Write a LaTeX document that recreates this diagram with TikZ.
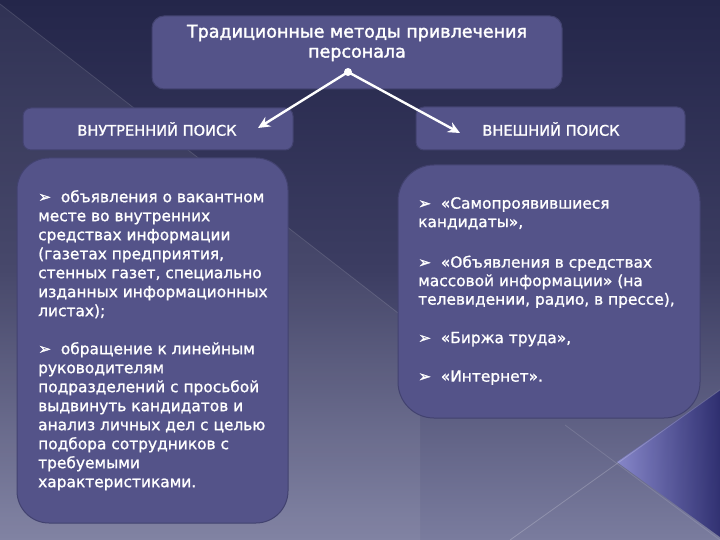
\documentclass[tikz,border=0pt]{standalone}
\usepackage{fontspec}
\setmainfont{DejaVu Sans}
\newfontfamily\heavy[FakeBold=1.2]{DejaVu Sans}
\newfontfamily\heavier[FakeBold=2]{DejaVu Sans}
\usetikzlibrary{arrows.meta,shadows}
\definecolor{bgtop}{HTML}{24264A}
\definecolor{bgmid}{HTML}{3C3D62}
\definecolor{bgbot}{HTML}{7A7C9E}
\definecolor{boxfill}{HTML}{545389}
\definecolor{boxedge}{HTML}{42426F}
\definecolor{blueA}{HTML}{8A8AD0}
\definecolor{blueB}{HTML}{2A2A6E}
\tikzset{
  panel/.style={fill=boxfill, draw=boxedge, line width=1pt},
  txt/.style={text=white, inner sep=0pt, align=left, anchor=north west},
  conn/.style={draw=white, line width=2.4pt, -{Stealth[length=12pt,width=11pt]}},
}
\begin{document}
\begin{tikzpicture}[x=1pt,y=-1pt]
\useasboundingbox (0,0) rectangle (720,540);
% background
\shade[top color=bgtop, bottom color=bgbot, middle color=bgmid] (0,0) rectangle (720,540);
\fill[white, opacity=0.06] (0,4) -- (420,330) -- (420,540) -- (0,540) -- cycle;
\draw[white, opacity=0.12, line width=0.8pt] (0,4) -- (420,330);
\shade[left color=blueA, right color=blueB, opacity=0.9] (617,462) -- (720,390) -- (720,537) -- cycle;
\draw[white, opacity=0.2, line width=0.8pt] (510,540) -- (720,390);
\draw[white, opacity=0.12, line width=0.8pt] (565,425) -- (720,540);
% boxes
\draw[panel, rounded corners=12pt] (152,16) rectangle (562,89);
\node[text=white, font=\heavier\fontsize{17.5}{20}\selectfont, align=center, inner sep=0pt] (title) at (357,43) {Традиционные методы привлечения\\персонала};
\draw[panel, rounded corners=8pt] (23,108) rectangle (293,150);
\node[text=white, font=\heavy\fontsize{14.6}{16}\selectfont, inner sep=0pt] (inner) at (157,129) {ВНУТРЕННИЙ ПОИСК};
\draw[panel, rounded corners=8pt] (416,107) rectangle (685,150);
\node[text=white, font=\heavy\fontsize{14.6}{16}\selectfont, inner sep=0pt] (outer) at (551,129) {ВНЕШНИЙ ПОИСК};
\draw[panel, rounded corners=32pt] (17,158) rectangle (288,523);
\draw[panel, rounded corners=36pt] (398,165) rectangle (700,418);
% content
\node[txt, font=\heavy\fontsize{15.4}{19}\selectfont] (ltext) at (38,190) {%
➢\ \ объявления о вакантном\\
месте во внутренних\\
средствах информации\\
(газетах предприятия,\\
стенных газет, специально\\
изданных информационных\\
листах);\\[19pt]
➢\ \ обращение к линейным\\
руководителям\\
подразделений с просьбой\\
выдвинуть кандидатов и\\
анализ личных дел с целью\\
подбора сотрудников с\\
требуемыми\\
характеристиками.};
\node[txt, font=\heavy\fontsize{15.4}{18.5}\selectfont] (rtext) at (418,197) {%
➢\ \ «Самопроявившиеся\\
кандидаты»,\\[22pt]
➢\ \ «Объявления в средствах\\
массовой информации» (на\\
телевидении, радио, в прессе),\\[20pt]
➢\ \ «Биржа труда»,\\[20pt]
➢\ \ «Интернет».};
% connectors
\coordinate (s) at (348,72);
\coordinate (lt) at (258,128);
\coordinate (rt) at (460,133);
\draw[conn] (s) -- (lt);
\draw[conn] (s) -- (rt);
\fill[white] (s) circle (4pt);
\end{tikzpicture}
\end{document}
